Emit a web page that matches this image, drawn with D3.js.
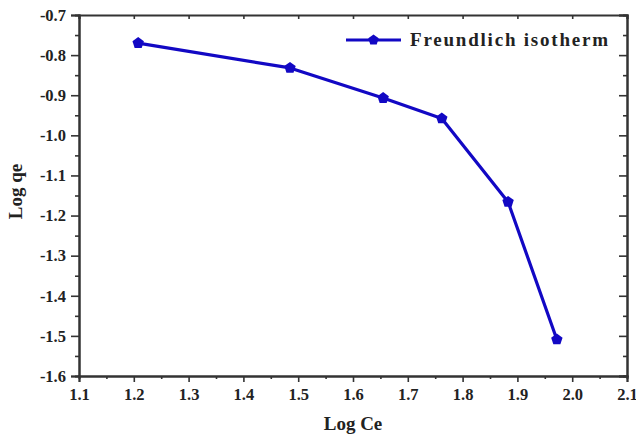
<!DOCTYPE html>
<html>
<head>
<meta charset="utf-8">
<script src="https://cdn.jsdelivr.net/npm/d3@7"></script>
<style>
  body { margin: 0; background: #fff; }
  text { font-family: "Liberation Serif", "Times New Roman", serif; font-weight: bold; fill: #222; }
</style>
</head>
<body>
<script>
var svgWidth = 636;
var svgHeight = 438;

var margin = { top: 15, right: 9, bottom: 62, left: 79 };
var width = svgWidth - margin.left - margin.right;
var height = svgHeight - margin.top - margin.bottom;

// data
var logCe = [1.208, 1.485, 1.655, 1.762, 1.883, 1.972];
var logQe = [-0.770, -0.832, -0.907, -0.958, -1.166, -1.509];
var xTicks = [1.1, 1.2, 1.3, 1.4, 1.5, 1.6, 1.7, 1.8, 1.9, 2.0, 2.1];
var yTicks = [-0.7, -0.8, -0.9, -1.0, -1.1, -1.2, -1.3, -1.4, -1.5, -1.6];
var seriesName = "Freundlich isotherm";

var blue = "#1208c4";
var axisColor = "#333";

var svg = d3.select("body").append("svg")
  .attr("width", svgWidth)
  .attr("height", svgHeight);

var chartGroup = svg.append("g")
  .attr("transform", `translate(${margin.left}, ${margin.top})`);

var x = d3.scaleLinear().domain([1.1, 2.1]).range([0, width]);
var y = d3.scaleLinear().domain([-1.6, -0.7]).range([height, 0]);

var xMinor = d3.range(1.15, 2.1, 0.1);
var yMinor = d3.range(-1.55, -0.7, 0.1);

// plain hyphen instead of the unicode minus
var fmt = d => d.toFixed(1);

function styleAxis(g) {
  g.select(".domain").attr("stroke", axisColor).attr("stroke-width", 2);
  g.selectAll(".tick line").attr("stroke", axisColor).attr("stroke-width", 1.6);
  g.selectAll("text")
    .style("font-size", "16.5px")
    .style("font-weight", "bold")
    .style("font-family", "'Liberation Serif', serif")
    .attr("fill", "#222");
}

// bottom axis
chartGroup.append("g")
  .attr("transform", `translate(0, ${height})`)
  .call(d3.axisBottom(x).tickValues(xTicks).tickFormat(fmt).tickSize(6).tickPadding(6))
  .call(styleAxis);
chartGroup.append("g")
  .attr("transform", `translate(0, ${height})`)
  .call(d3.axisBottom(x).tickValues(xMinor).tickFormat("").tickSize(3))
  .call(styleAxis);

// left axis
chartGroup.append("g")
  .call(d3.axisLeft(y).tickValues(yTicks).tickFormat(fmt).tickSize(8).tickPadding(5))
  .call(styleAxis);
chartGroup.append("g")
  .call(d3.axisLeft(y).tickValues(yMinor).tickFormat("").tickSize(4))
  .call(styleAxis);

// top axis, ticks inside
chartGroup.append("g")
  .call(d3.axisTop(x).tickValues(xTicks).tickFormat("").tickSize(-4))
  .call(styleAxis);

// right axis, ticks inside
chartGroup.append("g")
  .attr("transform", `translate(${width}, 0)`)
  .call(d3.axisRight(y).tickValues(yTicks).tickFormat("").tickSize(-8))
  .call(styleAxis);
chartGroup.append("g")
  .attr("transform", `translate(${width}, 0)`)
  .call(d3.axisRight(y).tickValues(yMinor).tickFormat("").tickSize(-4))
  .call(styleAxis);

// axis titles
chartGroup.append("text")
  .attr("transform", "rotate(-90)")
  .attr("x", -height / 2 + 4)
  .attr("y", -57)
  .attr("text-anchor", "middle")
  .style("font-size", "19px")
  .text("Log qe");

chartGroup.append("text")
  .attr("x", width / 2)
  .attr("y", height + 54)
  .attr("text-anchor", "middle")
  .style("font-size", "19px")
  .text("Log Ce");

// pentagon marker
function pentagon(r) {
  var pts = d3.range(5).map(function(i) {
    var a = -Math.PI / 2 + i * 2 * Math.PI / 5;
    return [r * Math.cos(a), r * Math.sin(a)];
  });
  return d3.line()(pts) + "Z";
}

var points = logCe.map(function(d, i) { return [d, logQe[i]]; });

chartGroup.append("path")
  .datum(points)
  .attr("fill", "none")
  .attr("stroke", blue)
  .attr("stroke-width", 3.2)
  .attr("stroke-linejoin", "round")
  .attr("d", d3.line().x(d => x(d[0])).y(d => y(d[1])));

chartGroup.selectAll(".marker")
  .data(points)
  .enter()
  .append("path")
  .attr("class", "marker")
  .attr("transform", d => `translate(${x(d[0])}, ${y(d[1])})`)
  .attr("d", pentagon(6))
  .attr("fill", blue);

// legend
var legend = svg.append("g").attr("transform", "translate(346, 40)");
legend.append("line")
  .attr("x1", 0).attr("x2", 55)
  .attr("stroke", blue).attr("stroke-width", 3);
legend.append("path")
  .attr("transform", "translate(27.5, 0)")
  .attr("d", pentagon(5.5))
  .attr("fill", blue);
legend.append("text")
  .attr("x", 64)
  .attr("y", 6)
  .style("font-size", "19px")
  .attr("textLength", 198)
  .attr("lengthAdjust", "spacing")
  .text(seriesName);
</script>
</body>
</html>
